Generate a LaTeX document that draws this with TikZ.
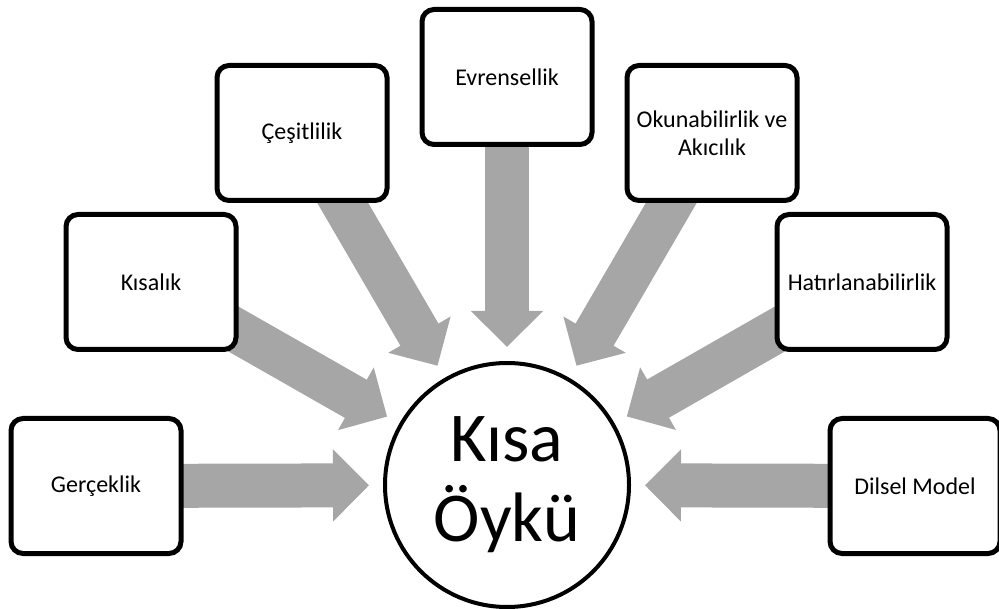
\documentclass[tikz,border=0pt]{standalone}
\usepackage{fontspec}
\setmainfont{Carlito}
\usetikzlibrary{arrows.meta,backgrounds}
\definecolor{arrowgray}{RGB}{166,166,166}

\begin{document}
\begin{tikzpicture}[x=1pt, y=-1pt, main node/.style={draw, line width=5pt, rounded corners=12pt, fill=white, minimum width=170pt, minimum height=135pt, align=center, font=\fontsize{24}{28}\selectfont}, center node/.style={circle, draw, line width=4pt, fill=white, minimum size=244pt, inner sep=0pt, align=center, font=\fontsize{70}{80}\selectfont}]

			\useasboundingbox (0,0) rectangle (999,609);

			\node[center node] (0) at (507,485) {K\i sa\\Öykü};

			\node[main node] (1) at (96,486) {Gerçeklik};
			\node[main node] (2) at (151,282) {K\i sal\i k};
			\node[main node] (3) at (302,133) {Çeşitlilik};
			\node[main node] (4) at (507,77) {Evrensellik};
			\node[main node] (5) at (712,133) {Okunabilirlik ve\\Ak\i c\i l\i k};
			\node[main node] (6) at (862,282) {Hat\i rlanabilirlik};
			\node[main node] (7) at (915,486) {Dilsel Model};

			% draw the big arrows behind the boxes
			\tikzset{EdgeStyle/.style={line width=44pt, draw=arrowgray, -{Triangle[width=70pt, length=36pt]}, shorten >=14pt}}
			\begin{scope}[on background layer]
				\foreach \n in {1,...,7}
					\draw[EdgeStyle] (\n.center) -- (0);
			\end{scope}

		\end{tikzpicture}
\end{document}
